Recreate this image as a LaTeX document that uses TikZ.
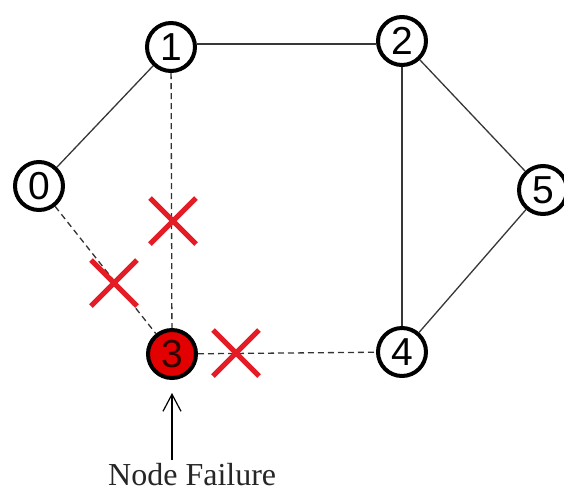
\documentclass[tikz,border=0pt]{standalone}
\usepackage{fontspec}
\setmainfont{Liberation Serif}
\newfontfamily\digitfont{Liberation Sans}
\usetikzlibrary{arrows.meta,calc}
\definecolor{xred}{RGB}{228,28,38}
\definecolor{nred}{RGB}{226,0,0}
\definecolor{edgegray}{RGB}{55,55,55}
\tikzset{
  vnode/.style={circle, draw=black, line width=4pt, fill=white, minimum size=48pt, inner sep=0pt,
    font=\digitfont\fontsize{39}{39}\selectfont},
  failnode/.style={vnode, fill=nred, text=black!80!red},
  edgeline/.style={draw=edgegray, line width=1.3pt},
  brokenline/.style={draw=black!80, line width=1.3pt, dash pattern=on 6pt off 4pt},
  xmark/.style={draw=xred, line width=5pt},
  labeltext/.style={font=\fontsize{32}{36}\selectfont, text=black!85, inner sep=0pt}
}
\begin{document}
\begin{tikzpicture}[x=1pt,y=-1pt]
\useasboundingbox (0,0) rectangle (564,491);
\fill[white] (0,0) rectangle (564,491);
% nodes
\node[vnode] (n0) at (39,186) {0};
\node[vnode] (n1) at (171,47) {1};
\node[vnode] (n2) at (402,41) {2};
\node[vnode] (n5) at (543,190) {5};
\node[vnode] (n4) at (402,352) {4};
\node[failnode] (n3) at (172,354) {3};
% edges
\draw[edgeline] (n0) -- (n1);
\draw[edgeline] (n1.east |- 0,44) -- (n2.west |- 0,44);
\draw[edgeline] (n2) -- (n5);
\draw[edgeline] (n2) -- (n4);
\draw[edgeline] (n5) -- (n4);
\draw[brokenline] (n1) -- (n3);
\draw[brokenline] (n0) -- (n3);
\draw[brokenline] (n3) -- (n4);
% X marks
\coordinate (x1) at (173,221);
\coordinate (x2) at (114,283);
\coordinate (x3) at (236,353);
\foreach \c in {x1,x2,x3}{
  \draw[xmark] ($(\c)+(-23,-23)$) -- ($(\c)+(23,23)$);
  \draw[xmark] ($(\c)+(-23,23)$) -- ($(\c)+(23,-23)$);
}
% label
\node[labeltext, anchor=base west] (lbl) at (108,485) {Node Failure};
\coordinate (arrstart) at (172,460);
\draw[line width=1.2pt, -{Straight Barb[length=17pt,width=18pt,line width=1.2pt]}, shorten >=13pt] (arrstart) -- (n3);
\end{tikzpicture}
\end{document}
